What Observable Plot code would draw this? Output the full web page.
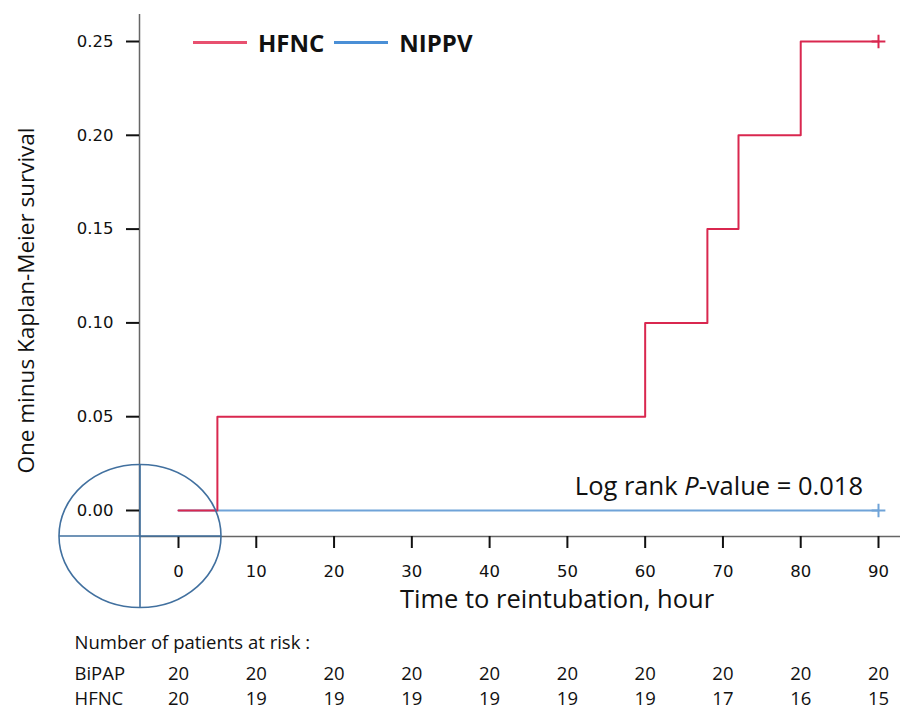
<!DOCTYPE html>
<html><head><meta charset="utf-8">
<script src="https://cdn.jsdelivr.net/npm/d3@7"></script>
<script src="https://cdn.jsdelivr.net/npm/@observablehq/plot@0.6"></script>
<style>
body{margin:0;background:#fff;}
#wrap{position:relative;width:900px;height:713px;overflow:hidden;}
#legend{position:absolute;left:193px;top:26px;font-family:"Open Sans",sans-serif;font-weight:bold;font-size:24px;display:flex;align-items:center;color:#111;}
#legend .sw{display:inline-block;width:54px;height:3px;margin-right:11px;}
#legend .it{display:flex;align-items:center;margin-right:10px;}
</style></head><body>
<div id="wrap"><div id="chart"></div><div id="legend"></div></div>
<script>
// ---- data ----
const seriesNames = ["HFNC", "NIPPV"];
const seriesColors = ["#d9274f", "#6fa3d8"];
const legendColors = ["#e8506f", "#4a8fd6"];
const hfncTime = [0, 5, 60, 68, 72, 80, 90];
const hfncValue = [0, 0.05, 0.10, 0.15, 0.20, 0.25, 0.25];
const nippvTime = [0, 90];
const nippvValue = [0, 0];
const censorTime = [90, 90];
const censorValue = [0.25, 0];
const censorSeries = ["HFNC", "NIPPV"];
const riskTimes = [0, 10, 20, 30, 40, 50, 60, 70, 80, 90];
const riskBiPAP = [20, 20, 20, 20, 20, 20, 20, 20, 20, 20];
const riskHFNC = [20, 19, 19, 19, 19, 19, 19, 17, 16, 15];
const riskGroups = ["BiPAP", "HFNC"];
const yTicks = [0, 0.05, 0.10, 0.15, 0.20, 0.25];
const xTicks = [0, 10, 20, 30, 40, 50, 60, 70, 80, 90];
const pValueText = "0.018";

// ---- tables ----
const hfnc = hfncTime.map((t, i) => ({t, v: hfncValue[i], s: "HFNC"}));
const nippv = nippvTime.map((t, i) => ({t, v: nippvValue[i], s: "NIPPV"}));
const censor = censorTime.map((t, i) => ({t, v: censorValue[i], s: censorSeries[i]}));
const riskB = riskTimes.map((t, i) => ({t, n: riskBiPAP[i]}));
const riskH = riskTimes.map((t, i) => ({t, n: riskHFNC[i]}));
const colorOf = s => seriesColors[seriesNames.indexOf(s)];

const W = 900, H = 713;
const mL = 139, mR = 0, mT = 14, mB = 177;
// x: 0 -> 178, 90 -> 878 ; y: 0 -> 510, 0.25 -> 41
const kx = 700 / 90, ky = 469 / 0.25;
const xDom = [-(178 - mL) / kx, (W - mR - 178) / kx];
const yDom = [-((H - mB) - 510) / ky, (510 - mT) / ky];

const tickFont = "DejaVu Sans, sans-serif";
const txtFont = "Open Sans, sans-serif";
const ink = "#111";
const riskSize = 18.5;

const chart = Plot.plot({
  width: W, height: H,
  marginLeft: mL, marginRight: mR, marginTop: mT, marginBottom: mB,
  style: {background: "#fff", overflow: "visible"},
  x: {domain: xDom},
  y: {domain: yDom},
  marks: [
    Plot.ruleX([xDom[0]], {stroke: "#666", strokeWidth: 1.5}),
    Plot.ruleY([yDom[0]], {stroke: "#666", strokeWidth: 1.5}),
    Plot.axisY({ticks: yTicks, tickSize: 13, tickPadding: 13, tickFormat: d3.format(".2f"),
      label: null, fontSize: 16.5, fontFamily: tickFont, stroke: ink, strokeWidth: 2, fill: ink}),
    Plot.axisX({ticks: xTicks, tickSize: 12, tickPadding: 17, tickFormat: d => d,
      label: null, fontSize: 16.5, fontFamily: tickFont, stroke: ink, strokeWidth: 2, fill: ink}),
    Plot.line(nippv, {x: "t", y: "v", stroke: colorOf("NIPPV"), strokeWidth: 2, curve: "step-after"}),
    Plot.line(hfnc, {x: "t", y: "v", stroke: colorOf("HFNC"), strokeWidth: 2, curve: "step-after"}),
    Plot.dot(censor, {x: "t", y: "v", symbol: "plus", r: 4.5, stroke: d => colorOf(d.s), strokeWidth: 2}),
    Plot.text(["Time to reintubation, hour"], {frameAnchor: "bottom", dx: 37, dy: 71,
      fontSize: 25.5, fontFamily: txtFont, fill: ink}),
    Plot.text(["Number of patients at risk :"], {frameAnchor: "bottom-left", dx: -65, dy: 112, textAnchor: "start",
      fontSize: riskSize, fontFamily: txtFont, fill: ink}),
    Plot.text([riskGroups[0]], {frameAnchor: "bottom-left", dx: -65, dy: 143, textAnchor: "start",
      fontSize: riskSize, fontFamily: txtFont, fill: ink}),
    Plot.text([riskGroups[1]], {frameAnchor: "bottom-left", dx: -65, dy: 168, textAnchor: "start",
      fontSize: riskSize, fontFamily: txtFont, fill: ink}),
    Plot.text(riskB, {x: "t", frameAnchor: "bottom", dy: 143, text: "n", fontSize: riskSize, fontFamily: txtFont, fill: ink}),
    Plot.text(riskH, {x: "t", frameAnchor: "bottom", dy: 168, text: "n", fontSize: riskSize, fontFamily: txtFont, fill: ink})
  ]
});
document.getElementById("chart").appendChild(chart);

const sx = chart.scale("x"), sy = chart.scale("y");
const svg = d3.select(chart);

// y-axis title
svg.append("text")
  .attr("transform", `translate(28,${(sy.apply(yTicks[0]) + sy.apply(yTicks[yTicks.length - 1])) / 2 + 25}) rotate(-90)`)
  .attr("text-anchor", "middle").attr("dominant-baseline", "middle")
  .attr("font-family", txtFont).attr("font-size", 22.5).attr("fill", ink)
  .text("One minus Kaplan-Meier survival");

// circled origin
const cx = sx.apply(xDom[0]) + 1, cy = sy.apply(yDom[0]);
const g = svg.append("g").attr("fill", "none").attr("stroke", "#41709f").attr("stroke-width", 1.6);
g.append("ellipse").attr("cx", cx).attr("cy", cy).attr("rx", 81).attr("ry", 71.5);
g.append("line").attr("x1", cx).attr("x2", cx).attr("y1", cy - 71.5).attr("y2", cy + 71.5);
g.append("line").attr("x1", cx - 81).attr("x2", cx + 81).attr("y1", cy).attr("y2", cy);

// log-rank annotation
const lr = svg.append("text")
  .attr("x", sx.apply(90) - 15).attr("y", sy.apply(0) - 15)
  .attr("text-anchor", "end").attr("font-family", txtFont).attr("font-size", 25.5).attr("fill", ink);
lr.append("tspan").text("Log rank ");
lr.append("tspan").attr("font-style", "italic").text("P");
lr.append("tspan").text("-value = " + pValueText);

// legend
const leg = d3.select("#legend");
seriesNames.forEach((s, i) => {
  const it = leg.append("div").attr("class", "it");
  it.append("span").attr("class", "sw").style("background", legendColors[i]);
  it.append("span").text(s);
});
</script>
</body></html>
